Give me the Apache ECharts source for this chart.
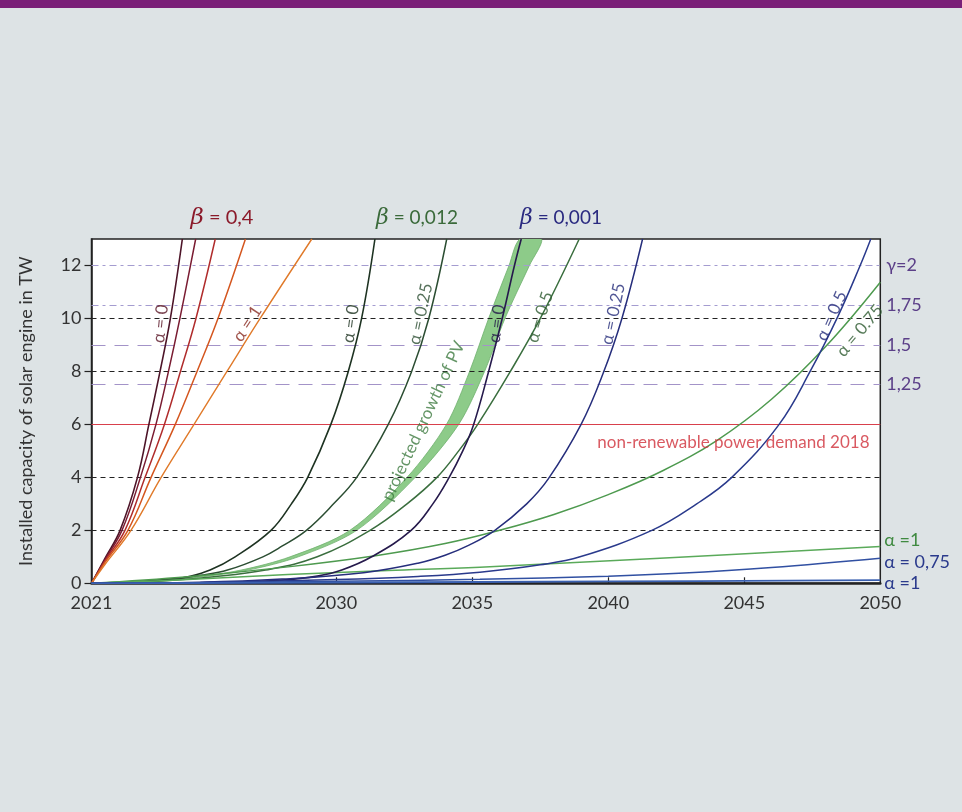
<!DOCTYPE html>
<html><head><meta charset="utf-8">
<script src="https://cdn.jsdelivr.net/npm/echarts@6/dist/echarts.min.js"></script>
<style>html,body{margin:0;padding:0;background:#dde3e5;}#c{width:962px;height:812px;}</style>
</head><body><div id="c"></div>
<script>
// ---- axes / ticks ----
const xTickLabels = [2021, 2025, 2030, 2035, 2040, 2045, 2050];
const xInnerTicks = [2030, 2035, 2040, 2045];
const yTickLabels = [0, 2, 4, 6, 8, 10, 12];
const blackGridValues = [2, 4, 8, 10];
const gammaValues = [12, 10.5, 9, 7.5];
const gammaLabels = ['γ=2', '1,75', '1,5', '1,25'];
const demand2018 = 6;

// ---- beta = 0.4 family ----
const red_a0   = [[2021,0],[2021.5,0.95],[2022.05,2],[2022.69,4],[2023.11,6],[2023.52,8],[2023.9,10],[2024.34,13]];
const red_a25  = [[2021,0],[2021.5,0.9],[2022.12,2],[2022.80,4],[2023.37,6],[2023.83,8],[2024.25,10],[2024.83,13]];
const red_a50  = [[2021,0],[2021.5,0.85],[2022.23,2],[2022.97,4],[2023.68,6],[2024.27,8],[2024.84,10],[2025.55,13]];
const red_a75  = [[2021,0],[2021.5,0.8],[2022.34,2],[2023.19,4],[2024.08,6],[2024.88,8],[2025.65,10],[2026.66,13]];
const red_a100 = [[2021,0],[2021.5,0.72],[2022.45,2],[2023.56,4],[2024.77,6],[2025.98,8],[2027.2,10],[2029.1,13]];

// ---- beta = 0.012 family ----
const grn_a0   = [[2021,0],[2022,0.02],[2023,0.08],[2024,0.17],[2024.55,0.25],[2025.36,0.5],[2026.28,1],[2027.6,2],[2028.35,3],[2028.95,4],[2029.8,6],[2030.44,8],[2030.93,10],[2031.42,13]];
const grn_a25  = [[2021,0],[2022,0.02],[2023,0.07],[2024,0.16],[2025,0.3],[2026,0.5],[2027.3,1],[2028.0,1.4],[2028.9,2],[2029.9,3],[2030.75,4],[2031.91,6],[2032.77,8],[2033.4,10],[2034.06,13]];
const grn_a50  = [[2021,0],[2023,0.05],[2025.5,0.25],[2027.4,0.5],[2029.3,1],[2031.24,2],[2032.6,3],[2033.7,4],[2034.5,5],[2035.2,6],[2036.4,8],[2037.5,10],[2038.93,13]];
const grn_a75  = [[2021,0],[2024.55,0.25],[2028.22,0.62],[2031.5,1.05],[2034,1.5],[2036,2],[2038,2.6],[2040,3.35],[2042,4.25],[2044,5.4],[2046,6.95],[2048,8.95],[2050,11.37]];
const grn_a100 = [[2021,0],[2024.55,0.14],[2028.22,0.33],[2031.9,0.48],[2035.28,0.61],[2041.9,0.95],[2050,1.39]];

// ---- beta = 0.001 family ----
const nav_a0   = [[2021,0],[2023,0.01],[2026,0.04],[2028,0.12],[2029.3,0.27],[2030.2,0.5],[2031.3,1],[2032.75,2],[2033.55,3],[2034.15,4],[2034.65,5],[2035.05,6],[2035.6,8],[2036.1,10],[2036.55,12],[2036.8,13]];
const nav_a25  = [[2021,0],[2025,0.04],[2028,0.16],[2031,0.4],[2033,0.76],[2034,1.06],[2034.9,1.45],[2035.83,2],[2037,3],[2037.8,3.95],[2039,6],[2039.8,7.9],[2040.5,10],[2041.26,13]];
const nav_a50  = [[2021,0],[2025,0.03],[2030,0.14],[2033,0.26],[2035.28,0.42],[2037.5,0.7],[2038.96,1],[2041.6,2],[2043.25,3],[2044.54,4],[2046.28,6],[2047.42,8],[2048.45,10.1],[2049.26,12],[2049.65,13]];
const nav_a75  = [[2021,0],[2025,0.02],[2030,0.08],[2035.28,0.15],[2040,0.27],[2042.6,0.38],[2046,0.6],[2050,0.95]];
const nav_a100 = [[2021,0],[2030,0.03],[2040,0.07],[2050,0.12]];

// ---- projected growth of PV band (upper/left and lower/right edges) ----
const pvUpper = [[2021,0],[2024.5,0.2],[2026.5,0.5],[2028.3,1],[2030.5,2],[2032.6,4],[2034.05,6],[2034.9,8],[2035.6,10],[2036.35,12],[2036.75,13]];
const pvLower = [[2021,0],[2024.6,0.2],[2026.75,0.5],[2028.6,1],[2030.75,2],[2032.9,4],[2034.5,6],[2035.45,8],[2036.2,10],[2037.1,12],[2037.55,13]];

// ---- in-plot curve labels: [x, y, text, rotate, color] ----
const curveLabels = [
  [2023.54, 9.8, 'α = 0', 84, '#5a1525'],
  [2026.73, 9.8, 'α = 1', 57, '#8a2a20'],
  [2030.53, 9.8, 'α = 0', 82, '#1e3322'],
  [2033.1, 10.17, 'α = 0.25', 78, '#2d4f33'],
  [2035.9, 9.8, 'α = 0', 82, '#241a4a'],
  [2037.49, 10.05, 'α = 0.5', 72, '#2d5a30'],
  [2040.18, 10.17, 'α = 0.25', 78, '#252d7a'],
  [2048.21, 10.1, 'α = 0.5', 66, '#252d7a'],
  [2049.25, 9.54, 'α = 0.75', 50, '#2d5a30']
];
const pvLabel = [2033.2, 6.13, 'projected growth of PV', 65, '#3d7a40'];
const demandLabel = [2044.6, 5.3, 'non-renewable power demand 2018'];

const FONT = "Lato, 'Open Sans', 'DejaVu Sans', sans-serif";

function curve(name, data, color, width, endLabel) {
  const s = {
    name, type: 'line', data, showSymbol: false, smooth: 0.4,
    clip: true, silent: true, z: 5,
    lineStyle: { color, width: width || 1.5 }
  };
  if (endLabel) s.endLabel = endLabel;
  return s;
}

const markLineData = [];
blackGridValues.forEach(v => markLineData.push({ yAxis: v, lineStyle: { color: '#222', type: [5, 4], width: 1.2 }, label: { show: false } }));
gammaValues.forEach((v, i) => markLineData.push({
  yAxis: v,
  lineStyle: { color: i < 2 ? '#a49cd0' : '#a393c8', type: i < 2 ? [7, 4, 3, 4] : [14, 9], width: 1 },
  label: { show: true, position: 'end', formatter: gammaLabels[i], color: '#5b3f88', fontSize: 18, fontFamily: FONT, distance: 6 }
}));
markLineData.push({ yAxis: demand2018, lineStyle: { color: '#d8404c', type: 'solid', width: 1.2 }, label: { show: false } });

const chart = echarts.init(document.getElementById('c'));
chart.setOption({
  backgroundColor: '#dde3e5',
  animation: false,
  textStyle: { fontFamily: FONT },
  grid: { left: 91.5, right: 81.7, top: 239, bottom: 228.7, show: true, backgroundColor: '#ffffff', borderColor: '#222', borderWidth: 1.5 },
  xAxis: {
    type: 'value', min: 2021, max: 2050,
    axisLine: { show: true, lineStyle: { color: '#222', width: 2.5 } },
    axisTick: { show: true, inside: true, length: 6, customValues: xInnerTicks, lineStyle: { color: '#222', width: 1.2 } },
    axisLabel: { customValues: xTickLabels, formatter: v => String(v), color: '#333', fontSize: 18, margin: 11, fontFamily: FONT },
    splitLine: { show: false }
  },
  yAxis: {
    type: 'value', min: 0, max: 13,
    name: 'Installed capacity of solar engine in TW', nameLocation: 'middle', nameGap: 56, nameRotate: 90,
    nameTextStyle: { color: '#333', fontSize: 18, fontFamily: FONT },
    axisLine: { show: true, lineStyle: { color: '#222', width: 1.5 } },
    axisTick: { show: true, length: 7, customValues: yTickLabels, lineStyle: { color: '#222', width: 1.2 } },
    axisLabel: { customValues: yTickLabels, color: '#333', fontSize: 18, margin: 10, fontFamily: FONT },
    splitLine: { show: false }
  },
  graphic: [
    { type: 'rect', shape: { x: 0, y: 0, width: 962, height: 8 }, style: { fill: '#7a1f78' } },
    { type: 'text', x: 222, y: 218, style: { text: '{b|β} = 0,4', align: 'center', verticalAlign: 'middle', fill: '#8b1a2a', font: '20px ' + FONT, rich: { b: { fontStyle: 'italic', fontSize: 23, fontFamily: 'DejaVu Serif', fill: '#8b1a2a' } } } },
    { type: 'text', x: 417, y: 218, style: { text: '{b|β} = 0,012', align: 'center', verticalAlign: 'middle', fill: '#3a6a3a', font: '19px ' + FONT, rich: { b: { fontStyle: 'italic', fontSize: 22, fontFamily: 'DejaVu Serif', fill: '#3a6a3a' } } } },
    { type: 'text', x: 561, y: 218, style: { text: '{b|β} = 0,001', align: 'center', verticalAlign: 'middle', fill: '#2a2a80', font: '19px ' + FONT, rich: { b: { fontStyle: 'italic', fontSize: 22, fontFamily: 'DejaVu Serif', fill: '#2a2a80' } } } }
  ],
  series: [
    {
      type: 'line', data: [[2021, 0]], showSymbol: false, silent: true, lineStyle: { width: 0 },
      markLine: { silent: true, symbol: 'none', animation: false, data: markLineData }, z: 2
    },
    {
      type: 'custom', data: [0], clip: true, silent: true, z: 3,
      renderItem: function (params, api) {
        const pts = pvUpper.map(p => api.coord(p)).concat(pvLower.slice().reverse().map(p => api.coord(p)));
        return { type: 'polygon', shape: { points: pts, smooth: 0.3 }, style: { fill: '#8dcb89', stroke: '#6fb06d', lineWidth: 0.8 } };
      }
    },
    curve('r0', red_a0, '#4d1428', 1.6),
    curve('r25', red_a25, '#7a1c32', 1.5),
    curve('r50', red_a50, '#b02c2c', 1.5),
    curve('r75', red_a75, '#d4561f', 1.5),
    curve('r100', red_a100, '#e07a2a', 1.4),
    curve('g0', grn_a0, '#1e3322', 1.6),
    curve('g25', grn_a25, '#2b4d32', 1.5),
    curve('g50', grn_a50, '#3a6e3e', 1.5),
    curve('g75', grn_a75, '#4e9a4f', 1.5),
    curve('g100', grn_a100, '#5aaa5a', 1.5, { show: true, formatter: 'α =1', color: '#3f8a40', fontSize: 18, distance: 4, offset: [0, -6] }),
    curve('n0', nav_a0, '#261a4c', 1.6),
    curve('n25', nav_a25, '#262e7c', 1.5),
    curve('n50', nav_a50, '#2a3a8c', 1.5),
    curve('n75', nav_a75, '#3150a2', 1.5, { show: true, formatter: 'α = 0,75', color: '#2a3a8c', fontSize: 18, distance: 4, offset: [0, 4] }),
    curve('n100', nav_a100, '#3a60b0', 1.8, { show: true, formatter: 'α =1', color: '#2a3a8c', fontSize: 18, distance: 4, offset: [0, 3] }),
    {
      type: 'scatter', symbolSize: 0, silent: true, z: 6,
      data: curveLabels.map(l => ({ value: [l[0], l[1]], label: { show: true, position: 'inside', formatter: l[2], rotate: l[3], color: l[4], fontSize: 17, fontFamily: FONT } }))
        .concat([
          { value: [pvLabel[0], pvLabel[1]], label: { show: true, position: 'inside', formatter: pvLabel[2], rotate: pvLabel[3], color: pvLabel[4], fontSize: 17, fontFamily: FONT } },
          { value: [demandLabel[0], demandLabel[1]], label: { show: true, position: 'inside', formatter: demandLabel[2], color: '#d0303a', fontSize: 17, fontFamily: FONT } }
        ])
    }
  ]
});
</script>
</body></html>
